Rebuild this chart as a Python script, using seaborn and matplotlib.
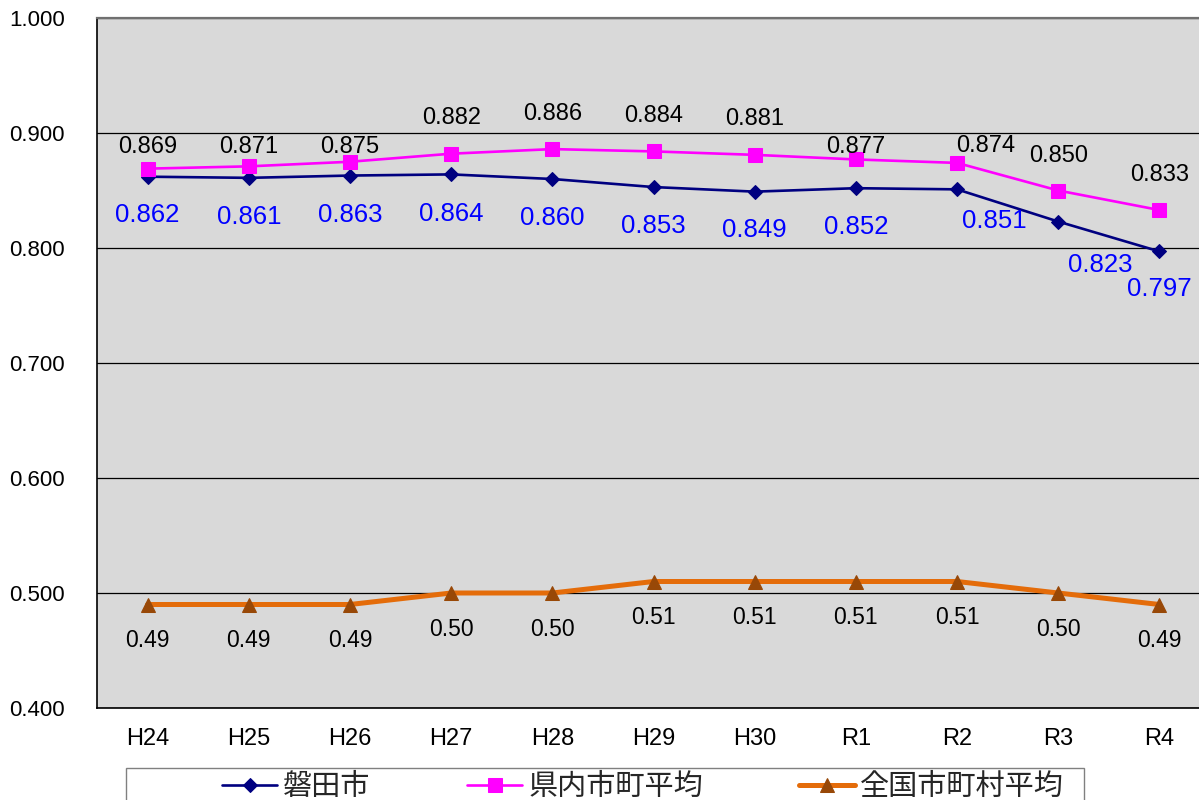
import matplotlib
matplotlib.use("Agg")
import matplotlib.pyplot as plt
import seaborn as sns
import numpy as np
from matplotlib.patches import Rectangle

# ---- data ----
years = ["H24", "H25", "H26", "H27", "H28", "H29", "H30", "R1", "R2", "R3", "R4"]
iwata = [0.862, 0.861, 0.863, 0.864, 0.860, 0.853, 0.849, 0.852, 0.851, 0.823, 0.797]
pref_avg = [0.869, 0.871, 0.875, 0.882, 0.886, 0.884, 0.881, 0.877, 0.874, 0.850, 0.833]
national_avg = [0.49, 0.49, 0.49, 0.50, 0.50, 0.51, 0.51, 0.51, 0.51, 0.50, 0.49]
series_names = ["磐田市", "県内市町平均", "全国市町村平均"]
y_ticks = [0.4, 0.5, 0.6, 0.7, 0.8, 0.9, 1.0]

# label offsets (pixels)
pref_offsets = [(0, 22), (0, 19), (0, 15), (0, 36), (0, 35), (0, 35), (0, 36), (0, 12), (29, 17), (0, 35), (0, 35)]
iwata_offsets = [(0, -38), (0, -39), (0, -39), (0, -40), (0, -39), (0, -39), (0, -38), (0, -39), (37, -32), (42, -43), (0, -38)]
nat_offsets = [(0, -36)] * 11

sns.set_style("white")
plt.rcParams["font.family"] = ["Liberation Sans", "Noto Sans CJK JP", "DejaVu Sans"]

W, H = 1199, 800
fig = plt.figure(figsize=(W / 100, H / 100), dpi=100)
ax = fig.add_axes([97 / W, 1 - 708 / H, 1113 / W, 690 / H])
ax.set_facecolor("#d9d9d9")

x = np.arange(len(years))
sns.lineplot(x=x, y=iwata, ax=ax, color="#000080", lw=1.9, marker="D", markersize=7,
             markerfacecolor="#000080", markeredgecolor="#000080", label=series_names[0], zorder=4)
sns.lineplot(x=x, y=pref_avg, ax=ax, color="#ff00ff", lw=1.9, marker="s", markersize=10.5,
             markerfacecolor="#ff00ff", markeredgecolor="#ff00ff", label=series_names[1], zorder=4)
sns.lineplot(x=x, y=national_avg, ax=ax, color="#e46c0a", lw=3.6, marker="^", markersize=10.5,
             markerfacecolor="#984807", markeredgecolor="#984807", label=series_names[2], zorder=4)

ax.set_xlim(-0.5, len(years) - 0.5)
ax.set_ylim(0.4, 1.0)
ax.set_yticks(y_ticks)
ax.set_yticklabels([f"{v:.3f}" for v in y_ticks])
ax.set_xticks(x)
ax.set_xticklabels(years)
ax.set_xticks(np.arange(-0.5, len(years), 1.0), minor=True)
ax.tick_params(axis="x", which="major", length=0, pad=14.5, labelsize=17, colors="black")
ax.tick_params(axis="x", which="minor", length=7, direction="in", color="black", width=1)
ax.tick_params(axis="y", which="both", length=0, pad=23, labelsize=16, colors="black")
ax.set_xlabel("")
ax.set_ylabel("")

ax.yaxis.grid(True, color="black", lw=0.9)
ax.xaxis.grid(False)
ax.set_axisbelow(True)
for s in ["left", "bottom"]:
    ax.spines[s].set_color("black")
    ax.spines[s].set_linewidth(1.2)
ax.spines["top"].set_color("#707070")
ax.spines["top"].set_linewidth(1.6)
ax.spines["right"].set_visible(False)

for xi, v, off in zip(x, pref_avg, pref_offsets):
    ax.annotate(f"{v:.3f}", (xi, v), xytext=off, textcoords="offset pixels",
                ha="center", va="center", fontsize=17, color="black", zorder=5)
for xi, v, off in zip(x, iwata, iwata_offsets):
    ax.annotate(f"{v:.3f}", (xi, v), xytext=off, textcoords="offset pixels",
                ha="center", va="center", fontsize=18.5, color="#0000ff", zorder=5)
for xi, v, off in zip(x, national_avg, nat_offsets):
    ax.annotate(f"{v:.2f}", (xi, v), xytext=off, textcoords="offset pixels",
                ha="center", va="center", fontsize=16.5, color="black", zorder=5)

handles, labels = ax.get_legend_handles_labels()
ax.get_legend().remove()
fig.legend(handles, labels, loc="center left", bbox_to_anchor=(222 / W, 1 - 787 / H),
           ncol=3, handlelength=1.9, handletextpad=0.2, columnspacing=3.3,
           frameon=False, borderaxespad=0, borderpad=0, fontsize=21)
fig.patches.append(Rectangle((126 / W, 1 - 830 / H), 958 / W, 62 / H, transform=fig.transFigure,
                             fill=False, ec="#808080", lw=1))

fig.savefig("out.png", dpi=100)
